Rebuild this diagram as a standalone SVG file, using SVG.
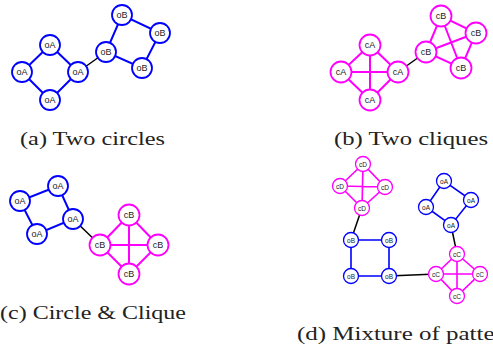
<svg xmlns="http://www.w3.org/2000/svg" width="493" height="344" viewBox="0 0 493 344">
<style>
.o{fill:#fff;stroke:#0000ff;stroke-width:1.8}
.c{fill:#fff;stroke:#ff00ff;stroke-width:1.8}
.os{fill:#fff;stroke:#0000ff;stroke-width:1.3}
.cs{fill:#fff;stroke:#ff00ff;stroke-width:1.3}
.t{font-family:"Liberation Sans",Arial,sans-serif;font-size:9px;fill:#222;text-anchor:middle;dominant-baseline:central}
.ts{font-family:"Liberation Sans",Arial,sans-serif;font-size:6.5px;fill:#222;text-anchor:middle;dominant-baseline:central}
.cap{font-family:"Liberation Serif","Times New Roman",serif;font-size:18px;fill:#222}
.eb{stroke:#0000ff;stroke-width:2;fill:none}
.em{stroke:#ff00ff;stroke-width:2;fill:none}
.ek{stroke:#000;stroke-width:1.5;fill:none}
.ebs{stroke:#0000ff;stroke-width:1.6;fill:none}
.ems{stroke:#ff00ff;stroke-width:1.6;fill:none}
</style>
<rect width="493" height="344" fill="#fff"/>
<g id="connectors">
<path class="eb" d="M50,45L22,72L50,100L78,72Z"/>
<path class="eb" d="M106,52L122,15L160,33L142,68Z"/>
<line class="ek" x1="78" y1="72" x2="106" y2="52"/>
<path class="em" d="M370,45L341,72L370,100L398,72Z M370,45L370,100 M341,72L398,72"/>
<path class="em" d="M426,52L441,16L476,33L461,68Z M426,52L476,33 M441,16L461,68"/>
<line class="ek" x1="398" y1="72" x2="426" y2="52"/>
<path class="eb" d="M58,186L20,201L37,234L73,219Z"/>
<path class="em" d="M100,245L129,215L158,245L129,274Z M100,245L158,245 M129,215L129,274"/>
<line class="ek" x1="73" y1="219" x2="100" y2="245"/>
<path class="ems" d="M363,164L340,186L362,208L385,187Z M363,164L362,208 M340,186L385,187"/>
<path class="ebs" d="M351,240L389,240L389,276L351,276Z"/>
<path class="ebs" d="M444,181L426,207L451,225L471,200Z"/>
<path class="ems" d="M457,254L436,274L457,296L480,274Z M457,254L457,296 M436,274L480,274"/>
<line class="ek" x1="362" y1="208" x2="351" y2="240"/>
<line class="ek" x1="389" y1="276" x2="436" y2="274"/>
<line class="ek" x1="451" y1="225" x2="457" y2="254"/>
</g>
<g id="a-oA1"><circle class="o" cx="50" cy="45" r="10"/><text class="t" x="50" y="45">oA</text></g>
<g id="a-oA2"><circle class="o" cx="22" cy="72" r="10"/><text class="t" x="22" y="72">oA</text></g>
<g id="a-oA3"><circle class="o" cx="78" cy="72" r="10"/><text class="t" x="78" y="72">oA</text></g>
<g id="a-oA4"><circle class="o" cx="50" cy="100" r="10"/><text class="t" x="50" y="100">oA</text></g>
<g id="a-oB1"><circle class="o" cx="106" cy="52" r="10"/><text class="t" x="106" y="52">oB</text></g>
<g id="a-oB2"><circle class="o" cx="122" cy="15" r="10"/><text class="t" x="122" y="15">oB</text></g>
<g id="a-oB3"><circle class="o" cx="160" cy="33" r="10"/><text class="t" x="160" y="33">oB</text></g>
<g id="a-oB4"><circle class="o" cx="142" cy="68" r="10"/><text class="t" x="142" y="68">oB</text></g>

<g id="b-cA1"><circle class="c" cx="370" cy="45" r="10.5"/><text class="t" x="370" y="45">cA</text></g>
<g id="b-cA2"><circle class="c" cx="341" cy="72" r="10.5"/><text class="t" x="341" y="72">cA</text></g>
<g id="b-cA3"><circle class="c" cx="398" cy="72" r="10.5"/><text class="t" x="398" y="72">cA</text></g>
<g id="b-cA4"><circle class="c" cx="370" cy="100" r="10.5"/><text class="t" x="370" y="100">cA</text></g>
<g id="b-cB1"><circle class="c" cx="426" cy="52" r="10.5"/><text class="t" x="426" y="52">cB</text></g>
<g id="b-cB2"><circle class="c" cx="441" cy="16" r="10.5"/><text class="t" x="441" y="16">cB</text></g>
<g id="b-cB3"><circle class="c" cx="476" cy="33" r="10.5"/><text class="t" x="476" y="33">cB</text></g>
<g id="b-cB4"><circle class="c" cx="461" cy="68" r="10.5"/><text class="t" x="461" y="68">cB</text></g>

<g id="c-oA1"><circle class="o" cx="58" cy="186" r="10"/><text class="t" x="58" y="186">oA</text></g>
<g id="c-oA2"><circle class="o" cx="20" cy="201" r="10"/><text class="t" x="20" y="201">oA</text></g>
<g id="c-oA3"><circle class="o" cx="73" cy="219" r="10"/><text class="t" x="73" y="219">oA</text></g>
<g id="c-oA4"><circle class="o" cx="37" cy="234" r="10"/><text class="t" x="37" y="234">oA</text></g>
<g id="c-cB1"><circle class="c" cx="100" cy="245" r="10.5"/><text class="t" x="100" y="245">cB</text></g>
<g id="c-cB2"><circle class="c" cx="129" cy="215" r="10.5"/><text class="t" x="129" y="215">cB</text></g>
<g id="c-cB3"><circle class="c" cx="158" cy="245" r="10.5"/><text class="t" x="158" y="245">cB</text></g>
<g id="c-cB4"><circle class="c" cx="129" cy="274" r="10.5"/><text class="t" x="129" y="274">cB</text></g>

<g id="d-cD1"><circle class="cs" cx="363" cy="164" r="7.5"/><text class="ts" x="363" y="164">cD</text></g>
<g id="d-cD2"><circle class="cs" cx="340" cy="186" r="7.5"/><text class="ts" x="340" y="186">cD</text></g>
<g id="d-cD3"><circle class="cs" cx="385" cy="187" r="7.5"/><text class="ts" x="385" y="187">cD</text></g>
<g id="d-cD4"><circle class="cs" cx="362" cy="208" r="7.5"/><text class="ts" x="362" y="208">cD</text></g>
<g id="d-oB1"><circle class="os" cx="351" cy="240" r="7.5"/><text class="ts" x="351" y="240">oB</text></g>
<g id="d-oB2"><circle class="os" cx="389" cy="240" r="7.5"/><text class="ts" x="389" y="240">oB</text></g>
<g id="d-oB3"><circle class="os" cx="351" cy="276" r="7.5"/><text class="ts" x="351" y="276">oB</text></g>
<g id="d-oB4"><circle class="os" cx="389" cy="276" r="7.5"/><text class="ts" x="389" y="276">oB</text></g>
<g id="d-oA1"><circle class="os" cx="444" cy="181" r="7.5"/><text class="ts" x="444" y="181">oA</text></g>
<g id="d-oA2"><circle class="os" cx="426" cy="207" r="7.5"/><text class="ts" x="426" y="207">oA</text></g>
<g id="d-oA3"><circle class="os" cx="471" cy="200" r="7.5"/><text class="ts" x="471" y="200">oA</text></g>
<g id="d-oA4"><circle class="os" cx="451" cy="225" r="7.5"/><text class="ts" x="451" y="225">oA</text></g>
<g id="d-cC1"><circle class="cs" cx="457" cy="254" r="7.5"/><text class="ts" x="457" y="254">cC</text></g>
<g id="d-cC2"><circle class="cs" cx="436" cy="274" r="7.5"/><text class="ts" x="436" y="274">cC</text></g>
<g id="d-cC3"><circle class="cs" cx="480" cy="274" r="7.5"/><text class="ts" x="480" y="274">cC</text></g>
<g id="d-cC4"><circle class="cs" cx="457" cy="296" r="7.5"/><text class="ts" x="457" y="296">cC</text></g>

<g id="captions">
<text class="cap" x="20" y="145" textLength="145" lengthAdjust="spacingAndGlyphs">(a) Two circles</text>
<text class="cap" x="334" y="145" textLength="154" lengthAdjust="spacingAndGlyphs">(b) Two cliques</text>
<text class="cap" x="0" y="319" textLength="186" lengthAdjust="spacingAndGlyphs">(c) Circle &amp; Clique</text>
<text class="cap" x="297" y="340" textLength="228" lengthAdjust="spacingAndGlyphs">(d) Mixture of patterns</text>
</g>
</svg>
